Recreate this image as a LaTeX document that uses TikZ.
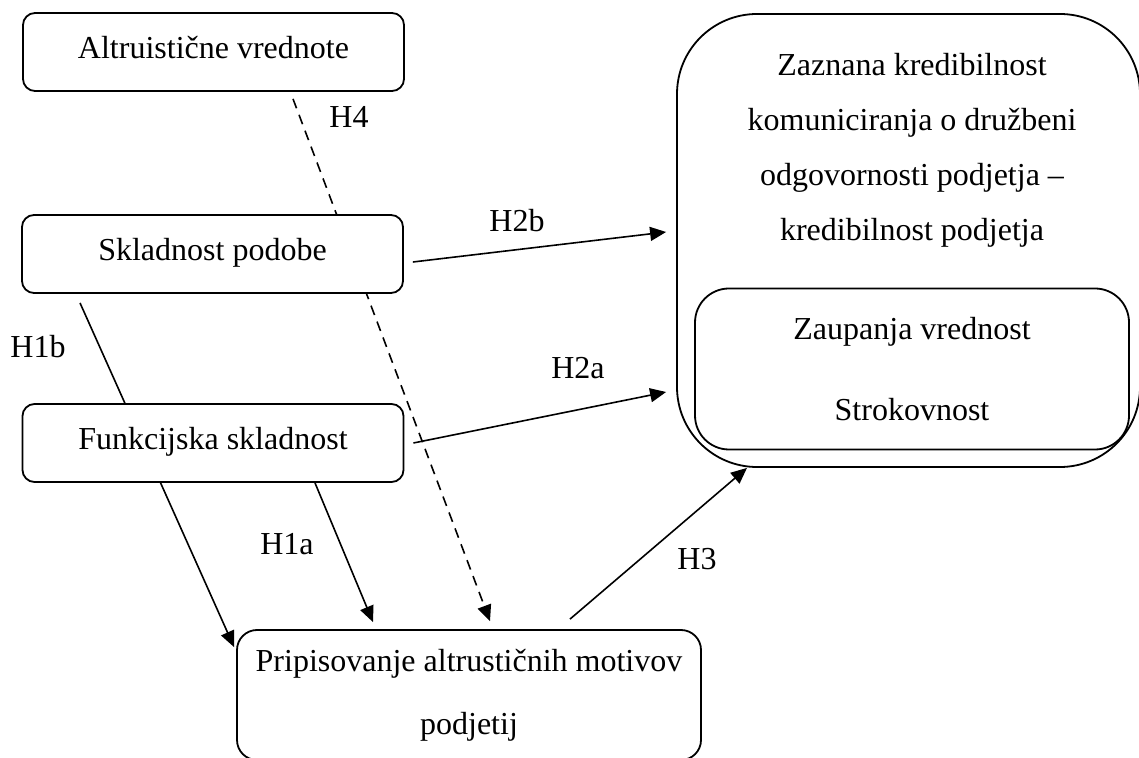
\documentclass[tikz,border=0pt]{standalone}
\usepackage{fontspec}
\setmainfont{Liberation Serif}
\usetikzlibrary{arrows.meta,backgrounds}

\begin{document}
\begin{tikzpicture}
		[x=0.5pt,y=-0.5pt,
		every node/.style={font=\fontsize{16}{27.5}\selectfont},
		box/.style={draw,fill=white,line width=0.9pt,rounded corners=6pt,inner sep=0pt},
		onebox/.style={box,minimum width=190.5pt,minimum height=39pt,
text height=11.2pt,text depth=4.8pt},
		textstyle/.style={inner sep=0pt},
		hyp/.style={-{Triangle[length=8pt,width=7pt]},line width=0.8pt},
		hypdash/.style={hyp,dash pattern=on 5pt off 3.5pt}]
		\useasboundingbox (0,0) rectangle (1139,758);
		\node at (213.5, 52) (alt) [onebox] {Altruistične vrednote};
		\node at (212.5, 254) (sklad) [onebox] {Skladnost podobe};
		\node at (213, 443) (funk) [onebox] {Funkcijska skladnost};
		\node at (469, 695) (prip) [box,rounded corners=10pt,minimum width=232pt,
minimum height=65pt,align=center,font=\fontsize{16}{31.5}\selectfont]
			{Pripisovanje altrustičnih motivov\\podjetij};
		\node at (908.5, 240.5) (kred) [box,rounded corners=40pt,minimum width=231.5pt,
minimum height=226.5pt] {};
		\node at (912, 150) (kredtext) [textstyle,align=center]
			{Zaznana kredibilnost\\komuniciranja o družbeni\\odgovornosti podjetja –\\kredibilnost podjetja};
		\node at (912, 369) (zaup) [box,rounded corners=17pt,minimum width=217pt,
minimum height=80.5pt,align=center,font=\fontsize{16}{40.5}\selectfont]
			{Zaupanja vrednost\\Strokovnost};
		% hipoteze
		\node at (349, 117) (h4) [textstyle] {H4};
		\node at (517, 221) (h2b) [textstyle] {H2b};
		\node at (38, 347) (h1b) [textstyle] {H1b};
		\node at (578, 368) (h2a) [textstyle] {H2a};
		\node at (287, 544) (h1a) [textstyle] {H1a};
		\node at (697, 559) (h3) [textstyle] {H3};
		\begin{scope}[on background layer]
			\draw [hypdash] ([xshift=39.75pt,yshift=-3.5pt]alt.south) -- ([xshift=10.5pt,yshift=4pt]prip.north);
			\draw [hyp] ([xshift=-66.25pt,yshift=-4.5pt]sklad.south) -- ([xshift=-1pt,yshift=-9pt]prip.north west);
			\draw [hyp] ([xshift=51pt]funk.south) -- ([xshift=-48pt,yshift=3.5pt]prip.north);
			\draw [hyp] ([xshift=4.5pt,yshift=-4pt]sklad.east) -- ([xshift=-5pt,yshift=4.25pt]kred.west);
			\draw [hyp] ([xshift=4.5pt]funk.east) -- ([xshift=-5pt,yshift=-75.75pt]kred.west);
			\draw [hyp] ([xshift=50.5pt,yshift=5pt]prip.north) -- ([xshift=-80.75pt]kred.south);
		\end{scope}
	\end{tikzpicture}
\end{document}
